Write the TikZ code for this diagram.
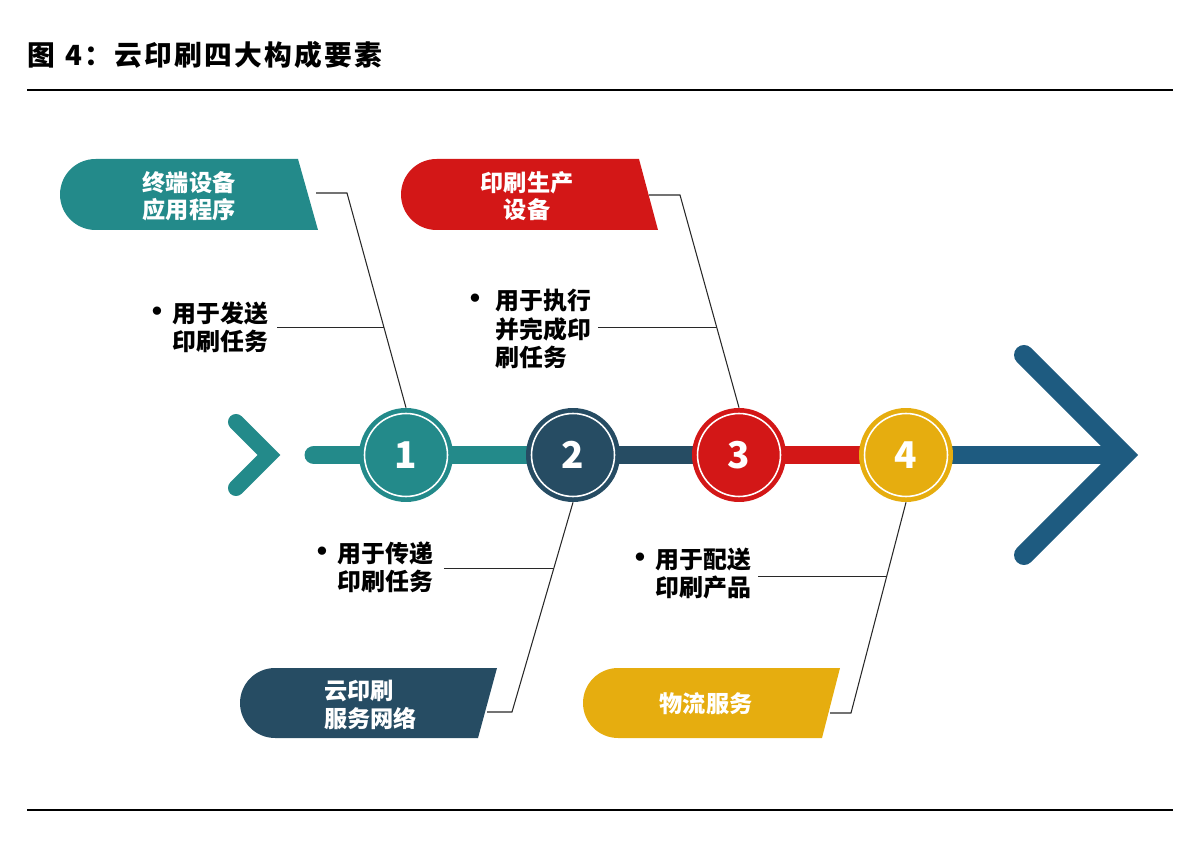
\documentclass[tikz,border=0pt]{standalone}
\usepackage{fontspec}
\setmainfont{Noto Sans CJK SC}
\usetikzlibrary{calc}
\definecolor{tealgreen}{RGB}{35,138,138}
\definecolor{navy}{RGB}{38,76,99}
\definecolor{printred}{RGB}{211,23,23}
\definecolor{amber}{RGB}{230,173,15}
\definecolor{deepblue}{RGB}{30,91,128}
\definecolor{leadgray}{RGB}{40,40,40}
\newcommand{\dotmark}[1]{\llap{{\fontsize{17}{16}\selectfont •}\hspace{#1}}}
\pgfdeclarelayer{bg}
\pgfsetlayers{bg,main}

\begin{document}
\begin{tikzpicture}[x=0.02cm, y=-0.02cm,
  every node/.style={font=\bfseries, inner sep=0pt},
  stepnum/.style={circle, minimum size=1.88cm, text=white,
    font=\bfseries\fontsize{21}{21}\selectfont,
    path picture={\draw[white, line width=0.9pt] (path picture bounding box.center) circle (0.83cm);}},
  bar/.style={line width=0.38cm, line cap=round},
  note/.style={align=left, anchor=west, font=\bfseries\fontsize{13.6}{16}\selectfont},
  bannertext/.style={align=center, text=white, font=\bfseries\fontsize{13.2}{15.6}\selectfont},
  lead/.style={leadgray, line width=0.6pt}]

  \useasboundingbox (0,0) rectangle (1200,864);

  % Title and rules
  \node[anchor=west, font=\bfseries\fontsize{15.8}{18}\selectfont\addfontfeature{LetterSpace=8}] (title) at (27,55) {图\hspace{6pt}4：云印刷四大构成要素};
  \draw[line width=0.7pt] (27,90) -- (1173,90);
  \draw[line width=0.7pt] (27,810) -- (1173,810);

  % Steps
  \node[stepnum, fill=tealgreen] (c1) at (406,455) {1};
  \node[stepnum, fill=navy] (c2) at (573,455) {2};
  \node[stepnum, fill=printred] (c3) at (739,455) {3};
  \node[stepnum, fill=amber] (c4) at (906,455) {4};

  % Main bar behind the steps
  \begin{pgfonlayer}{bg}
    \draw[bar, tealgreen] (314,455) -- (c2.center);
    \draw[bar, navy] (c2.center) -- (c3.center);
    \draw[bar, printred] (c3.center) -- (c4.center);
    \draw[bar, deepblue, line cap=butt] (c4.center) -- (1124,455);
  \end{pgfonlayer}

  % Chevrons
  \draw[tealgreen, line width=0.32cm, line cap=round] (236,422) -- (269,455) -- (236,488);
  \draw[deepblue, line width=0.4cm, line cap=round] (1024,355) -- (1124,455) -- (1024,555);

  % Banners
  \fill[tealgreen] (95.5,194.5) circle (0.71cm);
  \fill[tealgreen] (95.5,159) -- (298,159) -- (318,230) -- (95.5,230) -- cycle;
  \node[bannertext] (b1) at (189,196) {终端设备\\应用程序};

  \fill[printred] (436.5,194.5) circle (0.71cm);
  \fill[printred] (436.5,159) -- (639,159) -- (658,230) -- (436.5,230) -- cycle;
  \node[bannertext] (b2) at (527,196) {印刷生产\\设备};

  \fill[navy] (275,703) circle (0.70cm);
  \fill[navy] (275,668) -- (497,668) -- (478,738) -- (275,738) -- cycle;
  \node[bannertext, align=left, anchor=west] (b3) at (324,705) {云印刷\\服务网络};

  \fill[amber] (618,703) circle (0.70cm);
  \fill[amber] (618,668) -- (840,668) -- (822,738) -- (618,738) -- cycle;
  \node[bannertext] (b4) at (706,704) {物流服务};

  % Notes
  \node[note] (l1) at (172,327) {\dotmark{0pt}用于发送\\印刷任务};
  \node[note] (l2) at (495,329) {\dotmark{3pt}用于执行\\并完成印\\刷任务};
  \node[note] (l3) at (337,567) {\dotmark{0pt}用于传递\\印刷任务};
  \node[note] (l4) at (655,574) {\dotmark{0pt}用于配送\\印刷产品};

  % Leader lines
  \coordinate (s1) at (316,193);
  \coordinate (k1) at (347,193);
  \draw[lead] (s1) -- (k1) -- (c1.north);
  \coordinate (j1) at ($(k1)!0.628!(c1.north)$);
  \draw[lead] ([xshift=5pt]l1.east |- j1) -- (j1);

  \coordinate (s2) at (649,195);
  \coordinate (k2) at (680,195);
  \draw[lead] (s2) -- (k2) -- (c3.north);
  \coordinate (j2) at ($(k2)!0.624!(c3.north)$);
  \draw[lead] ([xshift=4pt]l2.east |- j2) -- (j2);

  \coordinate (s3) at (487,712);
  \coordinate (k3) at (512,712);
  \draw[lead] (c2.south) -- (k3) -- (s3);
  \coordinate (j3) at ($(c2.south)!0.314!(k3)$);
  \draw[lead] ([xshift=6pt]l3.east |- j3) -- (j3);

  \coordinate (s4) at (830,713);
  \coordinate (k4) at (851,713);
  \draw[lead] (c4.south) -- (k4) -- (s4);
  \coordinate (j4) at ($(c4.south)!0.351!(k4)$);
  \draw[lead] ([xshift=4pt]l4.east |- j4) -- (j4);
\end{tikzpicture}
\end{document}
